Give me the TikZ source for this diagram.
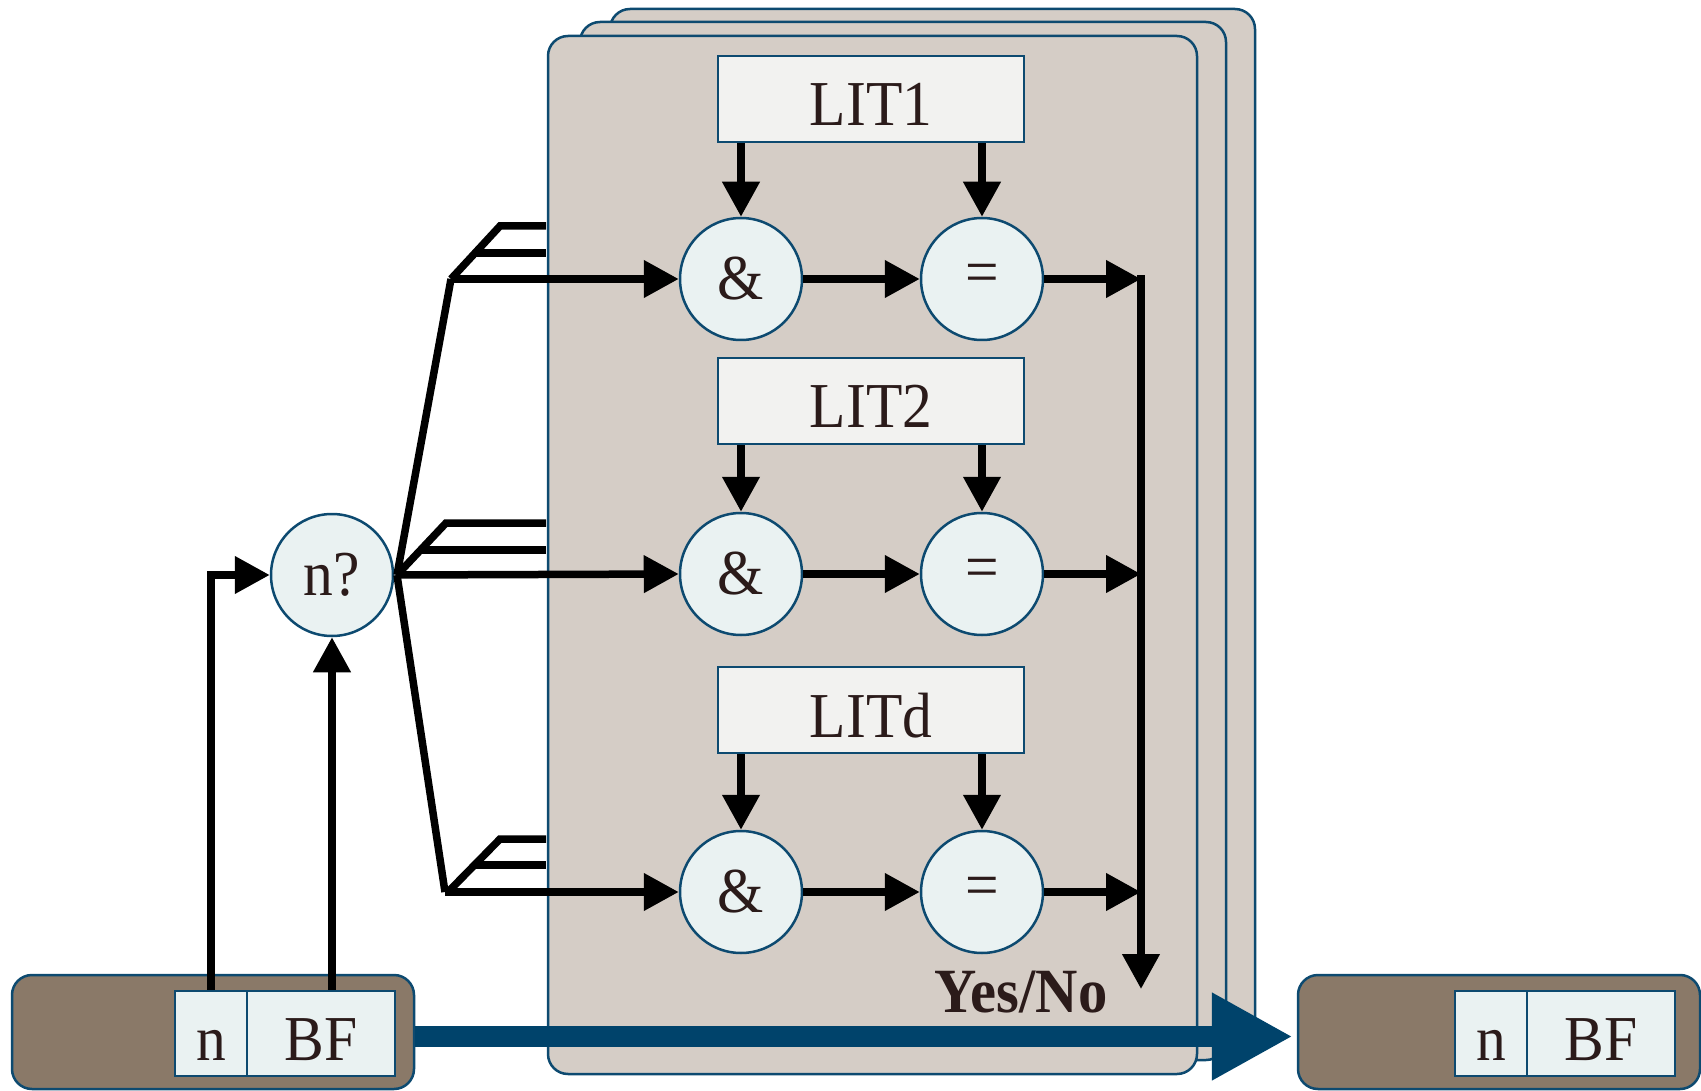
\documentclass[tikz,border=0pt]{standalone}
\usepackage{fontspec}
\setmainfont{Liberation Serif}[FakeStretch=0.93]
\usetikzlibrary{arrows.meta}
\definecolor{panelfill}{HTML}{D5CDC6}
\definecolor{edgeblue}{HTML}{0D4A70}
\definecolor{circfill}{HTML}{EAF2F2}
\definecolor{litfill}{HTML}{F2F2F0}
\definecolor{boxbrown}{HTML}{8A7968}
\definecolor{bigblue}{HTML}{00436B}
\definecolor{txt}{HTML}{2B1B1A}
\begin{document}
\begin{tikzpicture}[x=1pt,y=-1pt,
  panel/.style={draw=edgeblue, line width=2.5pt, fill=panelfill, rounded corners=20pt},
  op/.style={circle, draw=edgeblue, line width=2.5pt, fill=circfill, minimum size=122pt, inner sep=0pt, font=\fontsize{64}{64}\selectfont, text=txt},
  lit/.style={draw=edgeblue, line width=2.5pt, fill=litfill, minimum width=306pt, minimum height=86pt, inner sep=0pt, font=\fontsize{64}{64}\selectfont, text=txt, text height=54pt, text depth=0pt},
  holder/.style={draw=edgeblue, line width=2.5pt, fill=boxbrown, rounded corners=20pt, minimum width=402pt, minimum height=114pt, inner sep=0pt},
  cell/.style={draw=edgeblue, line width=2.5pt, fill=circfill, minimum height=85pt, inner sep=0pt, font=\fontsize{64}{64}\selectfont, text=txt, text height=54pt, text depth=0pt},
  wire/.style={line width=7.5pt, black},
  arr/.style={wire, -{Triangle[length=35pt,width=36pt]}},
  bigarr/.style={line width=21pt, bigblue, -{Triangle[length=81pt,width=82pt]}},
]
\useasboundingbox (0,0) rectangle (1701,1091);

% stacked panels
\draw[panel] (610,9) rectangle (1255,1045);
\draw[panel] (580,22) rectangle (1226,1060);
\draw[panel] (548,36) rectangle (1197,1074);

% LIT boxes
\node[lit] (lit1) at (871,99) {LIT1};
\node[lit] (lit2) at (871,401) {LIT2};
\node[lit] (litd) at (871,710) {LITd};

% operator circles
\node[op] (amp1) at (741,279) {\&};
\node[op] (eq1)  at (982,279) {=};
\node[op] (amp2) at (741,574) {\&};
\node[op] (eq2)  at (982,574) {=};
\node[op] (amp3) at (741,892) {\&};
\node[op] (eq3)  at (982,892) {=};

\node[op] (nq) at (332,575) {n?};

% bottom holders
\node[holder] (src) at (213,1032) {};
\node[cell, minimum width=72pt] (nL) at (211,1033.5) {n};
\node[cell, minimum width=148pt] (bfL) at (321,1033.5) {BF};
\node[holder] (dst) at (1499,1032) {};
\node[cell, minimum width=72pt] (nR) at (1491,1033.5) {n};
\node[cell, minimum width=148pt] (bfR) at (1601,1033.5) {BF};

% inputs to n?
\draw[arr] (nL.north) |- (nq.west);
\draw[arr] (nq.south |- bfL.north) -- (nq.south);

% fan-out coordinates
\coordinate (fork) at (397,575);
\coordinate (c1) at (451,279);
\coordinate (c3) at (445,892);
\coordinate (f1a) at (500,226);
\coordinate (f1b) at (546,226);
\coordinate (f1m) at (476,253);
\coordinate (f1n) at (546,253);
\coordinate (f2a) at (446,523);
\coordinate (f2b) at (546,523);
\coordinate (f2m) at (421,550);
\coordinate (f2n) at (546,550);
\coordinate (f3s) at (448,892);
\coordinate (f3a) at (500,839);
\coordinate (f3b) at (546,839);
\coordinate (f3m) at (474,865);
\coordinate (f3n) at (546,865);

\draw[wire] (fork) -- (c1);
\draw[wire] (fork) -- (c3);
\draw[arr] (c1) -- (amp1.west);
\draw[arr] (fork) -- (amp2.west);
\draw[arr] (c3) -- (amp3.west);
\draw[wire] (c1) -- (f1a) -- (f1b);
\draw[wire] (f1m) -- (f1n);
\draw[wire] (fork) -- (f2a) -- (f2b);
\draw[wire] (f2m) -- (f2n);
\draw[wire] (f3s) -- (f3a) -- (f3b);
\draw[wire] (f3m) -- (f3n);

% LIT to operators
\draw[arr] (amp1.north |- lit1.south) -- (amp1.north);
\draw[arr] (eq1.north |- lit1.south) -- (eq1.north);
\draw[arr] (amp2.north |- lit2.south) -- (amp2.north);
\draw[arr] (eq2.north |- lit2.south) -- (eq2.north);
\draw[arr] (amp3.north |- litd.south) -- (amp3.north);
\draw[arr] (eq3.north |- litd.south) -- (eq3.north);

% & to =
\draw[arr] (amp1.east) -- (eq1.west);
\draw[arr] (amp2.east) -- (eq2.west);
\draw[arr] (amp3.east) -- (eq3.west);

% collector bus
\coordinate (busTop) at (1141,279);
\coordinate (busEnd) at (1141,989);
\draw[arr] (eq1.east) -- (busTop);
\draw[arr] (eq2.east) -- (eq2.east -| busTop);
\draw[arr] (eq3.east) -- (eq3.east -| busTop);
\draw[arr] ([yshift=3.75pt]busTop) -- (busEnd);

\node[anchor=base, font=\fontsize{63}{63}\selectfont\bfseries, text=txt] (yn) at (1021,1012) {Yes/No};

% big output arrow
\draw[bigarr, shorten >=4pt] ([yshift=-4.5pt]src.east) -- ([yshift=-4.5pt]dst.west);
\end{tikzpicture}
\end{document}
